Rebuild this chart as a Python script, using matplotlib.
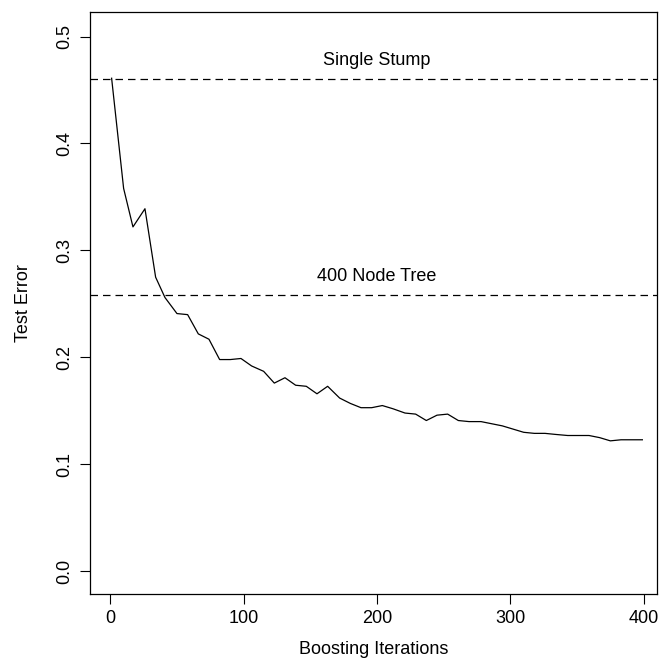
import matplotlib
matplotlib.use("Agg")
import matplotlib.pyplot as plt

# boosting test error
iterations = [1, 10, 17, 26, 34, 41, 50, 58, 66, 74, 82, 90, 98, 106, 115, 123,
              131, 139, 147, 155, 163, 172, 180, 188, 196, 204, 212, 221, 229,
              237, 245, 253, 261, 269, 278, 286, 294, 302, 310, 318, 326, 334,
              343, 351, 359, 367, 375, 383, 391, 399]
test_error = [0.461, 0.358, 0.322, 0.339, 0.275, 0.256, 0.241, 0.240, 0.222,
              0.217, 0.198, 0.198, 0.199, 0.192, 0.187, 0.176, 0.181, 0.174,
              0.173, 0.166, 0.173, 0.162, 0.157, 0.153, 0.153, 0.155, 0.152,
              0.148, 0.147, 0.141, 0.146, 0.147, 0.141, 0.140, 0.140, 0.138,
              0.136, 0.133, 0.130, 0.129, 0.129, 0.128, 0.127, 0.127, 0.127,
              0.125, 0.122, 0.123, 0.123, 0.123]

baseline_names = ["Single Stump", "400 Node Tree"]
baseline_errors = [0.460, 0.258]

xticks = [0, 100, 200, 300, 400]
yticks = [0.0, 0.1, 0.2, 0.3, 0.4, 0.5]

plt.rcParams['font.family'] = ['Liberation Sans', 'DejaVu Sans']

fig = plt.figure(figsize=(6.59, 6.62), dpi=100)
ax = fig.add_axes([0.137, 0.103, 0.860, 0.879])

ax.plot(iterations, test_error, color='black', linewidth=0.9)

for name, err in zip(baseline_names, baseline_errors):
    ax.axhline(err, color='black', linewidth=0.9, linestyle=(0, (6, 4)))
    ax.text(200, err + 0.013, name, ha='center', va='baseline', fontsize=13)

ax.set_xlim(-15, 410)
ax.set_ylim(-0.021, 0.523)
ax.set_xticks(xticks)
ax.set_yticks(yticks)
ax.set_yticklabels([f"{v:.1f}" for v in yticks], rotation=90, va='center')
ax.tick_params(direction='out', length=7, width=0.8, labelsize=13)
ax.tick_params(axis='x', pad=4.5)
ax.tick_params(axis='y', pad=5)

for s in ax.spines.values():
    s.set_linewidth(0.9)

ax.set_xlabel("Boosting Iterations", fontsize=13, labelpad=10)
ax.set_ylabel("Test Error", fontsize=13, labelpad=18)

fig.savefig("out.png", dpi=100, facecolor='white')
